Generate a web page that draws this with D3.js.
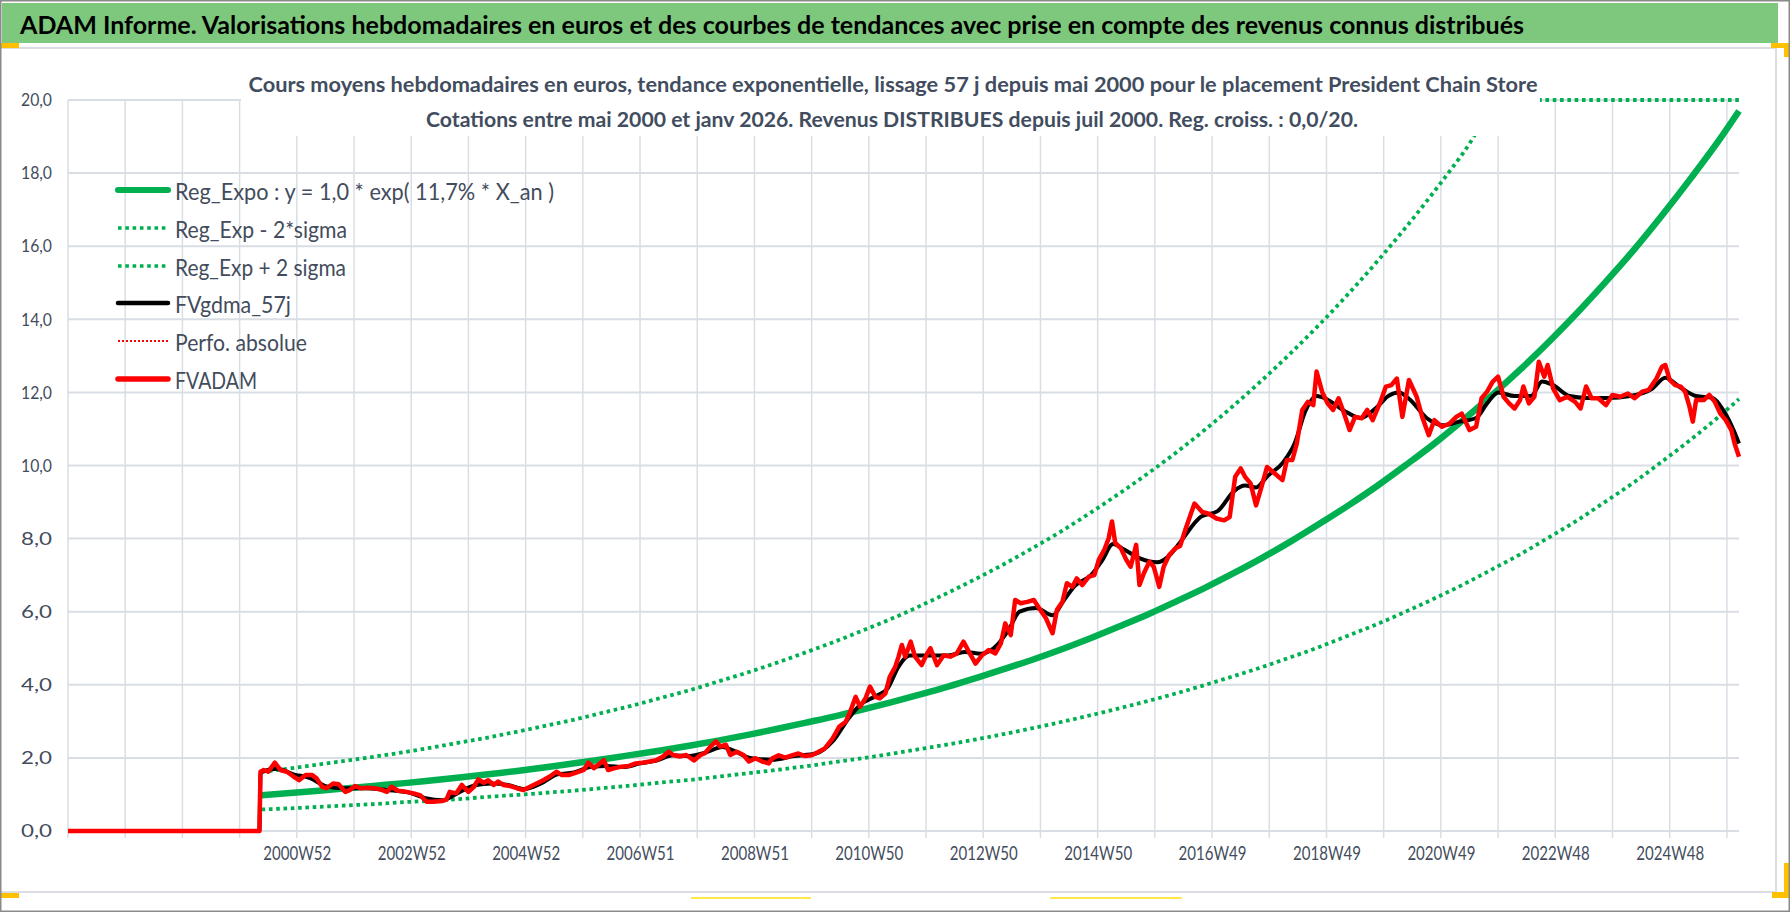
<!DOCTYPE html>
<html><head><meta charset="utf-8">
<script src="https://cdn.jsdelivr.net/npm/d3@7"></script>
<style>
body{margin:0;background:#fff;}
svg{display:block;font-family:Lato,"Open Sans",sans-serif;}
</style>
</head><body>
<svg id="chart" width="1790" height="912"></svg>
<script>
// ---------- DATA ----------
const mainTitle = "ADAM Informe. Valorisations hebdomadaires en euros et des courbes de tendances avec prise en compte des revenus connus distribués";
const chartTitle1 = "Cours moyens hebdomadaires en euros, tendance exponentielle, lissage 57 j depuis mai 2000 pour le placement President Chain Store";
const chartTitle2 = "Cotations entre mai 2000 et janv 2026. Revenus DISTRIBUES depuis juil 2000. Reg. croiss. : 0,0/20.";

const seriesNames = ["Reg_Expo : y = 1,0 * exp( 11,7% *  X_an )", "Reg_Exp - 2*sigma", "Reg_Exp + 2 sigma", "FVgdma_57j", "Perfo. absolue", "FVADAM"];

// week index 0 = first category (end 1996), last = 1519 (janv 2026)
const lastWeek = 1519;
const gridWeeks = [0,52,104,156,208,260,312,364,416,468,520,572,624,676,728,780,832,884,936,988,1040,1092,1144,1196,1248,1300,1352,1404,1456,1508];
const xLabelWeeks = [208,312,416,520,624,728,832,936,1040,1144,1248,1352,1456];
const xLabels = ["2000W52","2002W52","2004W52","2006W51","2008W51","2010W50","2012W50","2014W50","2016W49","2018W49","2020W49","2022W48","2024W48"];
const yTicks = [0,2,4,6,8,10,12,14,16,18,20];
const yMax = 20;

// trend curves, sampled every 26 weeks from week 176, last point at week 1519
const trendWeeks = [176,202,228,254,280,306,332,358,384,410,436,462,488,514,540,566,592,618,644,670,696,722,748,774,800,826,852,878,904,930,956,982,1008,1034,1060,1086,1112,1138,1164,1190,1216,1242,1268,1294,1320,1346,1372,1398,1424,1450,1476,1502,1519];
const regExpo = [0.98,1.04,1.10,1.17,1.24,1.31,1.39,1.47,1.56,1.65,1.75,1.86,1.97,2.09,2.21,2.34,2.48,2.63,2.79,2.96,3.13,3.32,3.52,3.73,3.95,4.19,4.44,4.70,4.98,5.28,5.60,5.93,6.29,6.66,7.06,7.48,7.93,8.41,8.91,9.44,10.01,10.60,11.24,11.91,12.62,13.38,14.18,15.03,15.92,16.88,17.89,18.95,19.70];
const regMinus2Sigma = [0.59,0.62,0.66,0.70,0.74,0.79,0.83,0.88,0.94,0.99,1.05,1.11,1.18,1.25,1.33,1.40,1.49,1.58,1.67,1.77,1.88,1.99,2.11,2.24,2.37,2.51,2.66,2.82,2.99,3.17,3.36,3.56,3.77,4.00,4.24,4.49,4.76,5.04,5.35,5.66,6.00,6.36,6.74,7.15,7.57,8.03,8.50,9.02,9.55,10.13,10.73,11.37,11.82];
const regPlus2Sigma = [1.62,1.71,1.82,1.93,2.04,2.16,2.29,2.43,2.57,2.73,2.89,3.06,3.25,3.44,3.65,3.86,4.10,4.34,4.60,4.88,5.17,5.48,5.80,6.15,6.52,6.91,7.32,7.76,8.22,8.72,9.24,9.79,10.37,10.99,11.65,12.35,13.09,13.87,14.70,15.58,16.51,17.50,18.54,19.65,20.83,22.07,23.39,24.79,26.27,27.84,29.51,31.27,32.51];

// FVADAM [week, value]
const fvadam = [[0,0],[174,0],[175,1.62],[178,1.67],[182,1.62],[188,1.87],[193,1.67],[199,1.62],[205,1.49],[210,1.39],[216,1.53],[222,1.53],[226,1.44],[231,1.21],[235,1.17],[241,1.30],[246,1.28],[252,1.07],[256,1.12],[261,1.23],[266,1.17],[272,1.18],[278,1.17],[284,1.14],[290,1.07],[294,1.21],[300,1.10],[308,1.07],[314,1.03],[320,0.98],[326,0.80],[332,0.80],[340,0.82],[344,0.86],[347,1.07],[353,1.03],[358,1.26],[364,1.07],[369,1.21],[373,1.41],[378,1.32],[382,1.39],[387,1.26],[391,1.35],[396,1.26],[402,1.23],[408,1.17],[414,1.12],[420,1.21],[426,1.30],[432,1.39],[438,1.49],[444,1.62],[449,1.53],[455,1.53],[462,1.60],[469,1.67],[473,1.87],[478,1.72],[482,1.81],[487,1.94],[491,1.67],[497,1.72],[503,1.76],[510,1.78],[516,1.85],[522,1.87],[529,1.90],[535,1.94],[541,2.04],[546,2.17],[550,2.08],[556,2.04],[562,2.08],[569,1.93],[575,2.08],[579,2.13],[584,2.31],[589,2.45],[593,2.31],[598,2.36],[602,2.08],[608,2.17],[614,2.08],[619,1.90],[625,1.99],[631,1.90],[637,1.85],[640,1.98],[646,2.07],[652,2.01],[658,2.07],[664,2.12],[670,2.05],[676,2.07],[682,2.16],[688,2.26],[695,2.53],[701,2.85],[707,2.99],[711,3.26],[716,3.67],[720,3.40],[725,3.63],[729,3.95],[734,3.67],[738,3.63],[743,3.76],[747,4.22],[752,4.49],[755,4.77],[758,5.09],[761,4.77],[766,5.18],[770,4.77],[776,4.54],[781,4.86],[784,5.00],[790,4.54],[796,4.81],[802,4.77],[808,4.86],[814,5.18],[819,4.90],[825,4.58],[831,4.81],[837,4.95],[843,4.86],[848,5.13],[852,5.68],[857,5.36],[861,6.32],[866,6.23],[872,6.27],[878,6.32],[883,6.09],[889,5.82],[895,5.41],[899,6.05],[904,6.27],[908,6.78],[913,6.68],[917,6.91],[922,6.73],[928,6.96],[933,7.00],[937,7.42],[942,7.69],[946,8.01],[949,8.47],[952,7.88],[957,7.74],[962,7.42],[966,7.23],[971,7.83],[974,6.73],[978,7.05],[983,7.37],[987,7.23],[992,6.68],[996,7.23],[1001,7.55],[1007,7.74],[1011,7.80],[1016,8.27],[1024,8.96],[1031,8.73],[1037,8.68],[1044,8.55],[1051,8.50],[1056,8.59],[1061,9.69],[1066,9.92],[1070,9.69],[1075,9.51],[1080,8.91],[1085,9.42],[1090,9.96],[1097,9.78],[1104,9.60],[1108,10.15],[1113,10.15],[1117,10.60],[1122,11.52],[1127,11.74],[1132,11.65],[1135,12.57],[1140,12.02],[1145,11.70],[1150,11.52],[1155,11.84],[1160,11.42],[1165,10.97],[1170,11.33],[1176,11.29],[1181,11.52],[1186,11.24],[1193,11.74],[1198,12.16],[1203,12.20],[1208,12.38],[1213,11.33],[1219,12.34],[1226,11.88],[1231,11.33],[1237,10.83],[1242,11.24],[1249,11.06],[1256,11.15],[1262,11.33],[1267,11.42],[1274,10.97],[1280,11.06],[1285,11.84],[1290,12.02],[1295,12.29],[1300,12.43],[1305,11.88],[1310,11.70],[1315,11.56],[1320,11.79],[1323,12.16],[1328,11.70],[1333,11.88],[1337,12.84],[1342,12.43],[1345,12.75],[1350,12.11],[1356,11.79],[1363,11.88],[1370,11.74],[1375,11.56],[1380,12.16],[1385,11.84],[1391,11.84],[1398,11.65],[1404,11.93],[1411,11.88],[1418,11.97],[1424,11.84],[1431,12.02],[1437,12.07],[1444,12.38],[1449,12.70],[1452,12.75],[1456,12.34],[1461,12.20],[1466,12.16],[1470,12.02],[1474,11.61],[1477,11.20],[1480,11.79],[1487,11.79],[1492,11.93],[1497,11.74],[1502,11.42],[1507,11.24],[1512,10.97],[1515,10.60],[1519,10.24]];

// FVgdma_57j [week, value]
const fvgdma = [[0,0],[174,0],[175,1.60],[190,1.70],[205,1.55],[220,1.45],[235,1.22],[250,1.17],[270,1.17],[290,1.12],[310,1.05],[325,0.90],[340,0.84],[355,1.05],[370,1.25],[385,1.30],[400,1.26],[415,1.15],[430,1.30],[445,1.55],[460,1.60],[475,1.75],[490,1.78],[505,1.75],[520,1.85],[535,1.93],[550,2.07],[565,2.05],[580,2.15],[595,2.30],[605,2.20],[620,2.00],[640,1.95],[660,2.05],[680,2.12],[695,2.45],[710,3.10],[720,3.45],[735,3.70],[745,3.90],[755,4.50],[765,4.80],[780,4.80],[800,4.80],[815,4.90],[830,4.85],[845,5.10],[855,5.50],[865,6.00],[880,6.10],[895,5.90],[905,6.30],[915,6.70],[930,7.00],[940,7.40],[950,7.85],[960,7.70],[975,7.45],[990,7.35],[1000,7.50],[1011,7.90],[1030,8.60],[1045,8.75],[1060,9.30],[1070,9.45],[1080,9.40],[1090,9.70],[1105,10.10],[1115,10.60],[1125,11.50],[1135,11.90],[1145,11.80],[1160,11.50],[1175,11.30],[1190,11.60],[1200,11.90],[1210,12.00],[1220,11.80],[1235,11.30],[1250,11.10],[1265,11.20],[1280,11.30],[1290,11.70],[1300,12.00],[1315,11.90],[1330,11.90],[1340,12.30],[1350,12.20],[1365,11.90],[1380,11.85],[1400,11.85],[1420,11.90],[1440,12.10],[1452,12.40],[1465,12.15],[1480,11.90],[1495,11.85],[1505,11.50],[1515,10.90],[1519,10.60]];

// ---------- DRAW ----------
const W = 1790, H = 912;
const svg = d3.select("#chart");
const GREEN = "#00B050", RED = "#FF0000", TXT = "#434C5C", GRID = "#D9DEE5";

const x = d3.scaleLinear().domain([0, lastWeek]).range([68, 1739]);
const y = d3.scaleLinear().domain([0, yMax]).range([831, 100]);
const loc = d3.formatLocale({decimal: ",", thousands: " ", grouping: [3], currency: ["", "€"]});
const yFmt = loc.format(".1f");

// frame
svg.append("rect").attr("x",0).attr("y",0).attr("width",W).attr("height",H).attr("fill","#fff");
svg.append("rect").attr("x",2).attr("y",3).attr("width",1776).attr("height",40).attr("fill","#7DC87D");
svg.append("line").attr("x1",0).attr("x2",1776).attr("y1",48).attr("y2",48).attr("stroke","#DADDE2").attr("stroke-width",2);
svg.append("line").attr("x1",0).attr("x2",1776).attr("y1",892).attr("y2",892).attr("stroke","#DADDE2").attr("stroke-width",2);
svg.append("line").attr("x1",1776).attr("x2",1776).attr("y1",48).attr("y2",892).attr("stroke","#DADDE2").attr("stroke-width",2);
// orange handles
const OR = "#FFC000";
svg.append("rect").attr("x",0).attr("y",43).attr("width",19).attr("height",5).attr("fill",OR);
svg.append("rect").attr("x",0).attr("y",893).attr("width",19).attr("height",5).attr("fill",OR);
svg.append("path").attr("d","M1771,43 H1790 V57 H1784 V48 H1771 Z").attr("fill",OR);
svg.append("path").attr("d","M1784,863 H1790 V898 H1772 V892 H1784 Z").attr("fill",OR);
svg.append("line").attr("x1",691).attr("x2",811).attr("y1",898).attr("y2",898).attr("stroke","#FFE74C").attr("stroke-width",2);
svg.append("line").attr("x1",1050).attr("x2",1182).attr("y1",898).attr("y2",898).attr("stroke","#FFE74C").attr("stroke-width",2);
svg.append("rect").attr("x",0.75).attr("y",0.75).attr("width",W-1.5).attr("height",H-1.5).attr("fill","none").attr("stroke","#8A8A8A").attr("stroke-width",1.5);

svg.append("text").attr("x",20).attr("y",34).attr("font-size",25).attr("font-weight","bold").attr("fill","#000")
  .attr("textLength",1504).attr("lengthAdjust","spacingAndGlyphs").text(mainTitle);

// grid
const grid = svg.append("g");
grid.selectAll("line.v").data(gridWeeks).join("line").attr("class","v")
  .attr("x1",d=>x(d)).attr("x2",d=>x(d)).attr("y1",y(yMax)).attr("y2",y(0)+7)
  .attr("stroke",GRID).attr("stroke-width",1.5);
grid.selectAll("line.h").data(yTicks).join("line").attr("class","h")
  .attr("x1",x(0)).attr("x2",x(lastWeek)).attr("y1",d=>y(d)).attr("y2",d=>y(d))
  .attr("stroke",GRID).attr("stroke-width",2);

// axes labels
const yAxis = svg.append("g").attr("transform","translate(52,0)")
  .call(d3.axisLeft(y).tickValues(yTicks).tickFormat(yFmt).tickSize(0).tickPadding(0));
yAxis.select(".domain").remove();
yAxis.selectAll("text").attr("font-size",18).attr("font-family","Lato,sans-serif").attr("fill",TXT)
  .attr("textLength",31).attr("lengthAdjust","spacingAndGlyphs");

const xAxis = svg.append("g").attr("transform","translate(0,847)")
  .call(d3.axisBottom(x).tickValues(xLabelWeeks).tickFormat((d,i)=>xLabels[i]).tickSize(0).tickPadding(0));
xAxis.select(".domain").remove();
xAxis.selectAll("text").attr("font-size",18.5).attr("font-family","Lato,sans-serif").attr("fill",TXT)
  .attr("textLength",68).attr("lengthAdjust","spacingAndGlyphs");

// series
const trendLine = arr => d3.line().x((d,i)=>x(trendWeeks[i])).y(d=>y(Math.min(d,yMax))).curve(d3.curveMonotoneX)(arr);
const pairLine = d3.line().x(d=>x(d[0])).y(d=>y(d[1]));
const dots = "3.6 3.7";

svg.append("path").attr("d",trendLine(regExpo)).attr("fill","none").attr("stroke",GREEN).attr("stroke-width",6.5);
svg.append("path").attr("d",trendLine(regMinus2Sigma)).attr("fill","none").attr("stroke",GREEN).attr("stroke-width",3.8).attr("stroke-dasharray",dots);
svg.append("path").attr("d",trendLine(regPlus2Sigma)).attr("fill","none").attr("stroke",GREEN).attr("stroke-width",3.8).attr("stroke-dasharray",dots);
svg.append("path").attr("d",d3.line().x(d=>x(d[0])).y(d=>y(d[1])).curve(d3.curveMonotoneX)(fvgdma))
  .attr("fill","none").attr("stroke","#000").attr("stroke-width",4).attr("stroke-linejoin","round");
svg.append("path").attr("d",pairLine(fvadam)).attr("fill","none").attr("stroke",RED).attr("stroke-width",4.5).attr("stroke-linejoin","round");

// chart title box
svg.append("rect").attr("x",241).attr("y",58).attr("width",1299).attr("height",78).attr("fill","#fff");
svg.append("text").attr("x",893).attr("y",92).attr("text-anchor","middle").attr("font-size",21).attr("font-weight","bold")
  .attr("fill","#414D5E").attr("textLength",1289).attr("lengthAdjust","spacingAndGlyphs").text(chartTitle1);
svg.append("text").attr("x",892).attr("y",127).attr("text-anchor","middle").attr("font-size",21).attr("font-weight","bold")
  .attr("fill","#414D5E").attr("textLength",932).attr("lengthAdjust","spacingAndGlyphs").text(chartTitle2);

// legend
const legendRows = [190,228,266,303,341,379];
const legendStyles = [
  {c:GREEN, w:6, dash:null},
  {c:GREEN, w:3.5, dash:dots},
  {c:GREEN, w:3.5, dash:dots},
  {c:"#000", w:4.5, dash:null},
  {c:RED, w:2, dash:"2 2"},
  {c:RED, w:5.5, dash:null}
];
const legendWidths = [379,172,171,116,132,82];
const lg = svg.append("g");
seriesNames.forEach((name,i)=>{
  const s = legendStyles[i];
  lg.append("line").attr("x1",118).attr("x2",168).attr("y1",legendRows[i]).attr("y2",legendRows[i])
    .attr("stroke",s.c).attr("stroke-width",s.w).attr("stroke-dasharray",s.dash)
    .attr("stroke-linecap", s.dash ? "butt" : "round");
  lg.append("text").attr("x",175).attr("y",legendRows[i]+10).attr("font-size",23).attr("fill",TXT)
    .attr("textLength",legendWidths[i]).attr("lengthAdjust","spacingAndGlyphs").text(name);
});
</script>
</body></html>
